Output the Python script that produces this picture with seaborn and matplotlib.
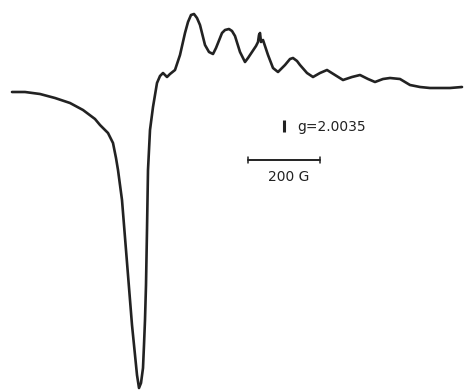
import matplotlib
matplotlib.use("Agg")
import matplotlib.pyplot as plt
import seaborn as sns
import pandas as pd

# Trace of the EPR derivative spectrum (horizontal position, signal height in image units)
field = [12, 25, 40, 55, 70, 83, 95, 100, 108, 113, 116, 118, 120, 122, 124, 126, 128, 130, 132, 135,
         137, 139, 141, 143, 144, 145, 146, 147, 148, 150, 153, 155, 157, 160, 163, 167, 170, 175,
         180, 185, 188, 191, 194, 197, 200, 205, 209, 213, 216, 218, 222, 225, 229, 232, 235, 240,
         245, 248, 252, 256, 258, 259, 260, 261, 263, 265, 268, 273, 278, 285, 290, 293, 297, 300,
         307, 313, 320, 327, 335, 343, 352, 360, 368, 375, 383, 390, 400, 410, 420, 430, 450, 462]
signal = [92, 92, 94, 98, 103, 110, 119, 125, 133, 143, 158, 170, 185, 200, 225, 250, 275, 300, 325, 355,
          375, 388, 383, 368, 345, 320, 285, 230, 170, 130, 107, 95, 83, 76, 73, 77, 74, 70,
          55, 33, 22, 15, 14, 18, 25, 45, 52, 54, 48, 43, 33, 30, 29, 31, 36, 52,
          62, 58, 52, 46, 42, 35, 33, 42, 40, 46, 55, 68, 72, 65, 59, 58, 61, 65,
          73, 77, 73, 70, 75, 80, 77, 75, 79, 82, 79, 78, 79, 85, 87, 88, 88, 87]
g_label = "g=2.0035"
scale_label = "200 G"

df = pd.DataFrame({"field": field, "signal": signal})

sns.set_theme(style="white")
fig = plt.figure(figsize=(4.68, 3.92), dpi=100)
ax = fig.add_axes([0, 0, 1, 1])
sns.lineplot(data=df, x="field", y="signal", sort=False, estimator=None,
             color="#222222", linewidth=1.9, ax=ax)
ax.set_xlim(0, 468)
ax.set_ylim(392, 0)
ax.axis("off")

# g marker and label
ax.plot([284, 284], [120, 132], color="#222222", linewidth=2.2, solid_capstyle="butt")
ax.text(297, 127, g_label, fontsize=10, va="center", ha="left", color="#222222",
        family="DejaVu Sans")

# scale bar
ax.plot([248, 320], [160, 160], color="#222222", linewidth=1.4)
ax.plot([248, 248], [157, 163], color="#222222", linewidth=1.1)
ax.plot([320, 320], [157, 163], color="#222222", linewidth=1.1)
ax.text(289, 177, scale_label, fontsize=10, va="center", ha="center", color="#222222",
        family="DejaVu Sans")

fig.savefig("out.png", dpi=100)
